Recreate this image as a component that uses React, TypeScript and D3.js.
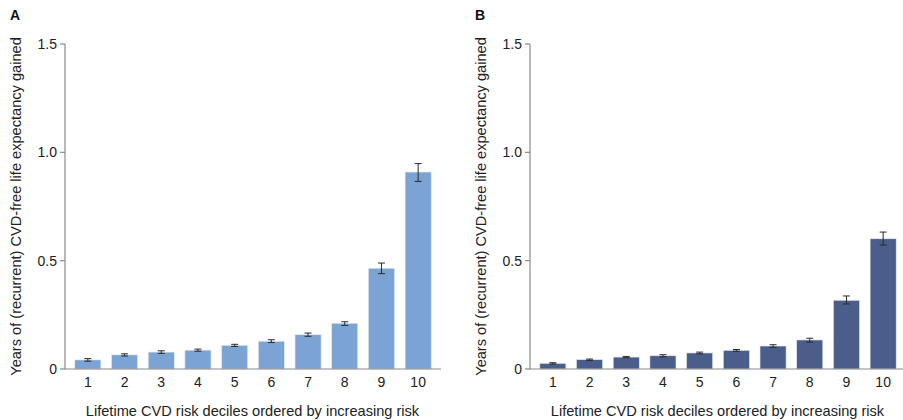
import React from "react";
import * as d3 from "d3";

// Risk deciles (x categories)
const deciles = ["1", "2", "3", "4", "5", "6", "7", "8", "9", "10"];

// Panel A: years gained, with lower/upper error bounds
const valuesA = [0.042, 0.065, 0.078, 0.087, 0.109, 0.128, 0.158, 0.211, 0.465, 0.909];
const lowerA = [0.036, 0.060, 0.072, 0.082, 0.104, 0.122, 0.151, 0.201, 0.440, 0.866];
const upperA = [0.048, 0.070, 0.084, 0.092, 0.114, 0.135, 0.166, 0.218, 0.489, 0.948];

// Panel B
const valuesB = [0.026, 0.043, 0.055, 0.061, 0.074, 0.086, 0.106, 0.134, 0.317, 0.601];
const lowerB = [0.023, 0.040, 0.052, 0.056, 0.070, 0.082, 0.100, 0.124, 0.300, 0.572];
const upperB = [0.029, 0.046, 0.058, 0.066, 0.078, 0.090, 0.112, 0.142, 0.337, 0.632];

const yTicks = [0, 0.5, 1.0, 1.5];
const yTickLabels = ["0", "0.5", "1.0", "1.5"];

const panelLabels = ["A", "B"];
const xTitle = "Lifetime CVD risk deciles ordered by increasing risk";
const yTitle = "Years of (recurrent) CVD-free life expectancy gained";

const W = 903;
const H = 420;
const FONT = "'Liberation Sans', Arial, sans-serif";

type PanelProps = {
  dx: number;
  label: string;
  values: number[];
  lower: number[];
  upper: number[];
  color: string;
};

function Panel({ dx, label, values, lower, upper, color }: PanelProps) {
  const axisX = 65;
  const axisEnd = 441;
  const y = d3.scaleLinear().domain([0, 1.5]).range([369, 44]);
  const x = d3
    .scaleBand<string>()
    .domain(deciles)
    .range([69.5, 436.5])
    .paddingInner(0.29)
    .paddingOuter(0.145);
  const bw = x.bandwidth();
  const axisColor = "#8a8a8a";

  return (
    <g transform={`translate(${dx},0)`}>
      <text x={10} y={20} fontFamily={FONT} fontSize={14} fontWeight="bold" fill="#111">
        {label}
      </text>
      {/* bars */}
      {values.map((v, i) => (
        <rect
          key={i}
          x={x(deciles[i])!}
          y={y(v)}
          width={bw}
          height={y(0) - y(v)}
          fill={color}
          stroke="#dfe6f0"
          strokeWidth={0.6}
        />
      ))}
      {/* error bars */}
      {values.map((_, i) => {
        const cx = x(deciles[i])! + bw / 2;
        const capHalf = 3.5;
        return (
          <g key={"e" + i} stroke="#2a2a2a" strokeWidth={1}>
            <line x1={cx} x2={cx} y1={y(lower[i])} y2={y(upper[i])} />
            <line x1={cx - capHalf} x2={cx + capHalf} y1={y(lower[i])} y2={y(lower[i])} />
            <line x1={cx - capHalf} x2={cx + capHalf} y1={y(upper[i])} y2={y(upper[i])} />
          </g>
        );
      })}
      {/* y axis */}
      <line x1={axisX} x2={axisX} y1={y(1.5)} y2={y(0)} stroke={axisColor} strokeWidth={1.2} />
      {yTicks.map((t, i) => (
        <g key={"t" + i}>
          <line x1={axisX - 5} x2={axisX} y1={y(t)} y2={y(t)} stroke={axisColor} strokeWidth={1.2} />
          <text
            x={axisX - 8}
            y={y(t)}
            dy="0.35em"
            textAnchor="end"
            fontFamily={FONT}
            fontSize={14}
            fill="#222"
          >
            {yTickLabels[i]}
          </text>
        </g>
      ))}
      {/* x axis */}
      <line x1={axisX} x2={axisEnd} y1={y(0)} y2={y(0)} stroke={axisColor} strokeWidth={1.2} />
      {deciles.map((d) => (
        <text
          key={"x" + d}
          x={x(d)! + bw / 2}
          y={387}
          textAnchor="middle"
          fontFamily={FONT}
          fontSize={14}
          fill="#222"
        >
          {d}
        </text>
      ))}
      <text
        x={252.5}
        y={416}
        textAnchor="middle"
        fontFamily={FONT}
        fontSize={14.6}
        fill="#222"
      >
        {xTitle}
      </text>
      <text
        transform={`translate(21,${(38 + 375) / 2}) rotate(-90)`}
        textAnchor="middle"
        fontFamily={FONT}
        fontSize={14.6}
        fill="#222"
      >
        {yTitle}
      </text>
    </g>
  );
}

export default function App() {
  return (
    <svg
      width={W}
      height={H}
      style={{ position: "absolute", left: 0, top: 0, background: "#fff" }}
    >
      <rect width={W} height={H} fill="#fff" />
      <Panel dx={0} label={panelLabels[0]} values={valuesA} lower={lowerA} upper={upperA} color="#7ba3d4" />
      <Panel dx={465} label={panelLabels[1]} values={valuesB} lower={lowerB} upper={upperB} color="#4a5d8b" />
    </svg>
  );
}
